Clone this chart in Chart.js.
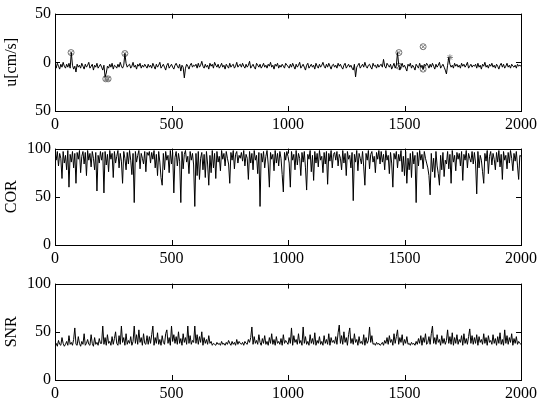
<!DOCTYPE html>
<html>
<head>
<meta charset="utf-8">
<script src="https://cdn.jsdelivr.net/npm/chart.js@4.4.1/dist/chart.umd.min.js"></script>
<style>
  body { margin: 0; background: #fff; }
  .panel { position: absolute; left: 0; }
</style>
</head>
<body>
<div class="panel" style="top:0px"><canvas id="cU" width="543" height="135"></canvas></div>
<div class="panel" style="top:135px"><canvas id="cCor" width="543" height="135"></canvas></div>
<div class="panel" style="top:270px"><canvas id="cSnr" width="543" height="129"></canvas></div>
<script>
// abtastschritt der gelesenen werte (sample index)
const step = 5;

const uValues = [
  -3,-6,-1,-4,-7,-2,-5,0,-4,-6,-2,-5,-1,-6,10,-3,-7,-4,-10,-2,-5,-3,-6,-1,-4,-7,-2,-5,-3,0,-6,-4,-2,-8,-3,-5,-1,-6,-4,-2,
  -5,-8,-3,-15,-11,-4,-6,-2,-5,-1,-7,-3,-4,-6,-2,-5,0,-4,-6,-3,9,-1,-5,-3,-2,-6,-4,0,-5,-3,-7,-2,-4,-1,-6,-3,-5,-2,-4,-6,
  -2,-5,-3,-6,-1,-4,-7,-2,-5,-3,0,-6,-4,-2,-5,-8,-3,-1,-6,-4,-2,-5,-7,-3,-1,-4,-6,-2,-9,-3,-5,-16,-6,-2,-4,-7,-3,-1,-5,-3,
  -4,-2,-6,-1,-5,-3,1,-4,-6,-2,-5,-3,-7,-1,-4,-2,-6,0,-3,-5,-2,-6,-4,-1,-5,-3,-7,-2,-4,-6,-1,-5,-3,-2,-6,-4,0,-5,-3,-2,
  -5,-1,-4,-6,-2,-5,-3,1,-6,-4,-2,-5,-7,-1,-3,-5,-2,-6,-4,-1,-5,-3,-6,-2,-4,0,-5,-3,-7,-2,-4,-1,-6,-3,-5,-2,-4,-6,-1,-3,
  -4,-6,-2,-5,-1,-4,-7,-2,-5,-3,0,-6,-4,-2,-5,-8,-3,-1,-6,-4,-2,-5,-3,-7,-1,-4,-6,-2,-5,-3,0,-4,-6,-2,-5,-1,-4,-7,-3,-2,
  -5,-3,-6,-1,-4,-2,-5,-7,-3,-1,-6,-4,-2,-5,-3,-6,-8,-2,-15,-5,-3,-1,-6,-4,-2,-5,0,-4,-6,-3,-2,-5,-7,-1,-4,-3,-6,-2,-5,-3,
  -2,-5,3,-4,-6,-1,-3,-5,-2,-7,-4,-1,-6,-3,10,-2,-8,-4,-1,-5,-3,-6,-9,-2,-4,-1,-6,-3,-5,-8,-2,-4,-6,-1,-5,-3,-7,-2,-4,-1,
  -3,-6,-2,-5,-1,-4,-7,-2,-5,-3,0,-6,-4,-2,-5,-8,-12,-3,5,-2,-5,-3,-6,-1,-4,-2,-5,-3,-6,-1,-4,-2,-5,-3,0,-6,-4,-2,-5,-3,
  -4,-2,-6,-1,-5,-3,-7,-2,-4,0,-5,-3,-6,-2,-4,-1,-5,-3,-6,-2,-4,-7,-3,-1,-5,-2,-6,-4,-1,-5,-3,-6,-2,-4,-5,-3,-6,-2,-4,-3,
  -4
];

// markierte ausreisser im u-signal
const outlierX = [69, 218, 228, 300, 1476, 1476, 1580, 1580];
const outlierY = [10, -17, -17, 9, 10, -4, 16, -7];
const starX = [1695];
const starY = [5];

// korrelation COR
const corValues = [
  96,88,97,82,95,90,69,97,85,93,78,98,60,94,86,97,80,95,64,96,89,98,75,92,97,84,96,72,98,88,95,81,97,90,78,96,56,93,85,97,
  88,96,54,97,83,94,76,98,89,95,70,97,85,92,98,80,95,87,64,97,90,78,96,84,98,88,73,95,44,97,86,93,98,79,95,90,84,97,76,96,
  93,97,85,96,89,98,80,94,72,97,86,70,62,95,78,97,88,93,75,98,84,96,54,91,97,82,95,87,44,97,79,94,98,86,92,74,97,88,95,83,
  40,95,72,97,68,90,96,78,94,70,97,84,62,93,75,98,80,95,69,97,86,92,77,98,89,95,82,97,90,84,64,96,88,98,79,94,97,85,93,90,
  96,87,98,82,94,90,68,97,85,95,78,98,88,93,74,96,40,95,86,97,80,92,98,84,60,96,89,94,77,98,85,95,82,97,90,73,55,96,88,97,
  92,85,60,97,88,94,78,98,83,95,90,72,96,86,97,80,57,94,89,98,76,93,67,97,85,95,81,98,88,92,75,96,84,97,63,95,87,98,80,94,
  96,88,97,82,94,90,78,98,85,95,72,97,89,93,80,96,46,94,86,98,77,95,90,84,97,81,62,95,88,98,79,94,97,86,92,75,96,89,98,84,
  97,86,94,78,98,88,93,74,96,85,60,95,89,97,80,94,87,98,76,92,72,97,64,90,78,95,70,97,84,93,44,96,82,98,88,94,79,97,90,85,
  80,72,52,95,76,90,70,97,82,74,62,93,78,96,71,88,84,97,79,94,64,98,86,93,77,96,89,95,82,97,67,94,88,98,80,95,90,86,97,84,
  96,85,53,97,80,93,88,76,64,95,87,98,74,92,97,83,95,89,78,96,86,98,81,94,68,97,88,93,79,96,85,98,90,77,95,87,97,82,68,93,
  92
];

// signal-rausch-verhaeltnis SNR
const snrValues = [
  36,38,35,41,37,36,44,38,35,37,40,36,46,37,39,36,42,54,37,36,45,38,35,40,37,48,36,38,42,37,36,47,38,35,44,37,39,36,43,38,
  38,56,37,44,36,47,38,40,36,45,37,43,50,38,36,46,37,56,39,44,36,48,37,41,38,45,36,40,56,38,47,37,52,39,44,36,48,38,37,46,
  37,45,38,47,56,36,44,38,49,37,42,36,46,39,37,48,52,38,44,36,56,40,47,38,45,37,50,38,43,36,48,39,44,37,56,38,46,37,41,39,
  56,38,47,37,45,39,50,36,44,38,42,37,46,38,40,36,38,37,36,39,37,38,36,40,37,38,36,39,37,41,38,36,40,37,39,36,42,37,40,38,
  37,39,36,40,38,37,42,39,44,55,37,45,38,41,37,47,39,36,43,38,46,37,40,36,44,38,48,37,42,36,45,38,40,37,43,36,47,38,41,39,
  37,44,38,54,36,46,39,42,37,48,38,41,36,55,38,45,37,40,36,47,38,43,37,49,36,41,38,45,37,40,36,46,38,42,37,48,36,44,39,41,
  38,45,37,49,57,38,46,37,50,39,44,36,47,54,38,43,37,48,39,42,36,45,38,40,37,47,36,44,38,41,55,39,46,37,38,36,39,37,38,36,
  37,39,36,41,38,44,37,46,39,42,36,48,38,45,52,37,44,39,47,36,42,38,45,37,38,36,39,37,38,36,40,37,43,38,46,36,44,39,48,37,
  39,45,37,48,56,38,44,37,47,39,42,36,46,38,43,37,41,52,38,45,37,49,36,44,38,47,37,42,39,46,36,48,38,43,37,45,53,38,46,37,
  44,38,47,36,45,39,42,37,48,38,44,36,46,39,41,37,47,38,43,36,45,38,49,37,42,36,52,38,46,37,44,39,48,36,43,38,45,37,40,38,
  37
];

// achsenbeschriftungen wie im original
const xTicks = [0, 500, 1000, 1500, 2000];
const uTicks = [-50, 0, 50];
const uTickText = ['50', '0', '50'];
const pctTicks = [0, 50, 100];

const serif = 'Liberation Serif';

function toPoints(values) {
  return values.map((v, i) => ({ x: i * step, y: v }));
}

// kleine ticks nach innen auf allen vier seiten, wie bei matlab
const boxTicks = {
  id: 'boxTicks',
  afterDraw(chart) {
    const ctx = chart.ctx;
    const a = chart.chartArea;
    const x = chart.scales.x;
    const y = chart.scales.y;
    const len = 5;
    ctx.save();
    ctx.strokeStyle = '#000';
    ctx.lineWidth = 1;
    ctx.strokeRect(Math.round(a.left) + 0.5, Math.round(a.top) + 0.5,
      Math.round(a.right - a.left), Math.round(a.bottom - a.top));
    ctx.beginPath();
    x.ticks.forEach(t => {
      const px = Math.round(x.getPixelForValue(t.value)) + 0.5;
      ctx.moveTo(px, a.bottom); ctx.lineTo(px, a.bottom - len);
      ctx.moveTo(px, a.top); ctx.lineTo(px, a.top + len);
    });
    y.ticks.forEach(t => {
      const py = Math.round(y.getPixelForValue(t.value)) + 0.5;
      ctx.moveTo(a.left, py); ctx.lineTo(a.left + len, py);
      ctx.moveTo(a.right, py); ctx.lineTo(a.right - len, py);
    });
    ctx.stroke();
    ctx.restore();
  }
};

function makeChart(id, datasets, yMin, yMax, yTickVals, yTickText, title, xAxisHeight) {
  return new Chart(document.getElementById(id), {
    type: 'line',
    data: { datasets: datasets },
    options: {
      responsive: false,
      animation: false,
      layout: { padding: { top: 13, right: 22, left: 0, bottom: 0 } },
      plugins: { legend: { display: false }, tooltip: { enabled: false } },
      elements: { point: { radius: 0 } },
      scales: {
        x: {
          type: 'linear', min: 0, max: 2000,
          grid: { display: false, drawTicks: false },
          border: { display: false },
          afterBuildTicks: s => { s.ticks = xTicks.map(v => ({ value: v })); },
          afterFit: s => { s.height = xAxisHeight; },
          ticks: {
            color: '#000', padding: 4, maxRotation: 0, font: { family: serif, size: 16 },
            callback: v => String(v)
          }
        },
        y: {
          min: yMin, max: yMax,
          grid: { display: false, drawTicks: false },
          border: { display: false },
          afterBuildTicks: s => { s.ticks = yTickVals.map(v => ({ value: v })); },
          afterFit: s => { s.width = 55; },
          ticks: {
            color: '#000', padding: 4, font: { family: serif, size: 16 },
            callback: v => yTickText[yTickVals.indexOf(v)]
          },
          title: { display: true, text: title, color: '#000', padding: 2, font: { family: serif, size: 16 } }
        }
      }
    },
    plugins: [boxTicks]
  });
}

makeChart('cU', [
  { data: toPoints(uValues), borderColor: '#000', borderWidth: 1, tension: 0 },
  { data: outlierX.map((v, i) => ({ x: v, y: outlierY[i] })), showLine: false,
    pointStyle: 'circle', pointRadius: 3, pointBorderColor: '#777', pointBorderWidth: 1, pointBackgroundColor: 'rgba(0,0,0,0)' },
  { data: outlierX.map((v, i) => ({ x: v, y: outlierY[i] })), showLine: false,
    pointStyle: 'crossRot', pointRadius: 3, pointBorderColor: '#777', pointBorderWidth: 1 },
  { data: starX.map((v, i) => ({ x: v, y: starY[i] })), showLine: false,
    pointStyle: 'star', pointRadius: 3, pointBorderColor: '#777', pointBorderWidth: 1 }
], -50, 50, uTicks, uTickText, 'u[cm/s]', 24);

makeChart('cCor', [
  { data: toPoints(corValues), borderColor: '#000', borderWidth: 1, tension: 0 }
], 0, 100, pctTicks, pctTicks.map(String), 'COR', 25);

makeChart('cSnr', [
  { data: toPoints(snrValues), borderColor: '#000', borderWidth: 1, tension: 0 }
], 0, 100, pctTicks, pctTicks.map(String), 'SNR', 19);
</script>
</body>
</html>
